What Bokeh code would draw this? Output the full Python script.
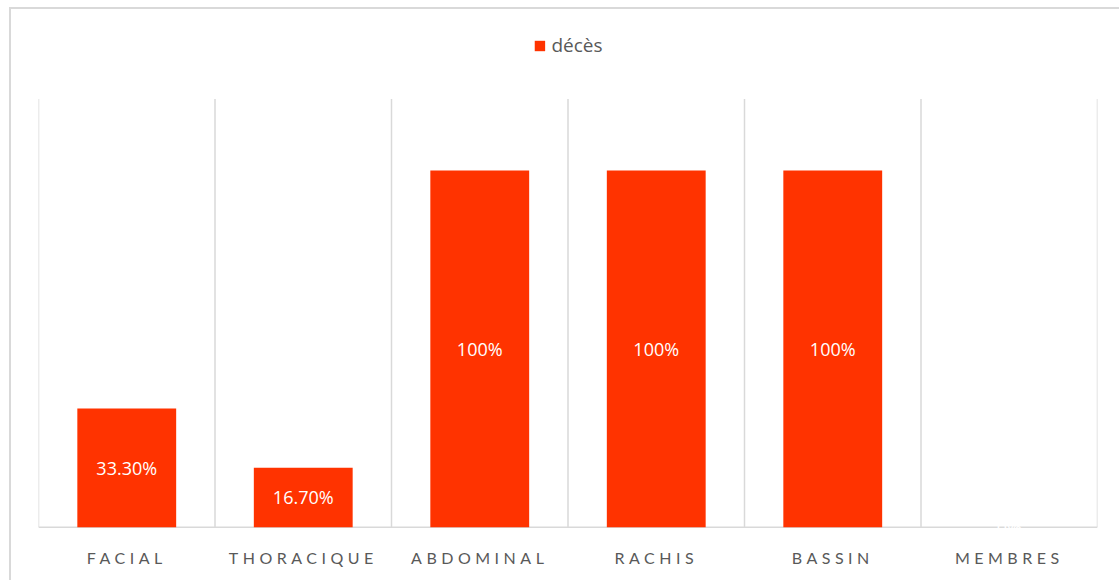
from bokeh.plotting import figure
from bokeh.layouts import column
from bokeh.models import (Range1d, FactorRange, ColumnDataSource, LabelSet,
                          Legend, LegendItem)
from bokeh.core.properties import value
from bokeh.embed import file_html
from bokeh.resources import INLINE

# Deaths by injury site (percent)
categories = ["FACIAL", "THORACIQUE", "ABDOMINAL", "RACHIS", "BASSIN", "MEMBRES"]
deces_pct = [33.3, 16.7, 100, 100, 100, 0]
series_name = "décès"
axis_max = 1.2   # value axis tops out at 120 %

BAR = "#FF3300"
GRID = "#d9d9d9"
TEXT = "#595959"
LETTER_SPACING = 4.5  # px, for the category names


def fmt(v):
    return f"{v:.0f}%" if float(v).is_integer() else f"{v:.2f}%"


src = ColumnDataSource(dict(
    cat=categories,
    val=[v / 100 for v in deces_pct],
    mid=[v / 200 for v in deces_pct],
    lbl=[fmt(v) for v in deces_pct],
))

xr = FactorRange(*categories, range_padding=0)

# main chart; the frame also holds the legend strip above the plotting area
# and a little room under the baseline for a label sitting at zero
p = figure(
    x_range=xr, y_range=Range1d(-0.04, 1.44),
    x_axis_type=None, y_axis_type=None,
    frame_width=1059, frame_height=528,
    output_backend="svg", toolbar_location=None,
    min_border_left=27, min_border_right=22,
    min_border_top=4, min_border_bottom=0,
    outline_line_color=None,
)
p.grid.visible = False

# category separators and baseline
n = len(categories)
p.segment(x0=list(range(n + 1)), x1=list(range(n + 1)),
          y0=[0] * (n + 1), y1=[axis_max] * (n + 1),
          line_color=GRID, line_width=1.5)
p.segment(x0=[0], x1=[n], y0=[0], y1=[0], line_color=GRID, line_width=1.5)

bars = p.vbar(x="cat", top="val", width=0.56, fill_color=BAR, line_color=None,
              source=src)

p.add_layout(LabelSet(x="cat", y="mid", text="lbl", source=src,
                      text_color="white", text_font=value("Open Sans"),
                      text_font_size="18px", text_align="center",
                      text_baseline="middle"))

lg = Legend(items=[LegendItem(label=series_name, renderers=[bars])],
            location="top_center", orientation="horizontal",
            padding=0, margin=19, border_line_color=None,
            background_fill_alpha=0, glyph_width=13, glyph_height=13,
            label_standoff=6, label_text_font="Open Sans",
            label_text_font_size="19px", label_text_color=TEXT)
p.add_layout(lg)

# category names in spaced capitals, on a strip sharing the same factor range;
# the letter spacing widens each name to the right, so shift it back by half
cat_src = ColumnDataSource(dict(
    cat=categories,
    y=[0.6] * n,
    dx=[-len(c) * LETTER_SPACING / 2 for c in categories],
))
q = figure(
    x_range=xr, y_range=Range1d(0, 1),
    x_axis_type=None, y_axis_type=None,
    frame_width=1059, frame_height=39,
    output_backend="svg", toolbar_location=None,
    min_border_left=27, min_border_right=22,
    min_border_top=0, min_border_bottom=0,
    outline_line_color=None,
    styles={"letter-spacing": f"{LETTER_SPACING}px"},
)
q.grid.visible = False
q.add_layout(LabelSet(x="cat", y="y", text="cat", x_offset="dx", source=cat_src,
                      text_color=TEXT, text_font=value("Lato"),
                      text_font_size="16px", text_align="center",
                      text_baseline="middle"))

page = column(p, q, spacing=0,
              styles={"margin-left": "9px", "margin-top": "7px",
                      "border-left": f"2px solid {GRID}",
                      "border-top": f"2px solid {GRID}"})

open("out.html", "w").write(file_html(page, INLINE))
